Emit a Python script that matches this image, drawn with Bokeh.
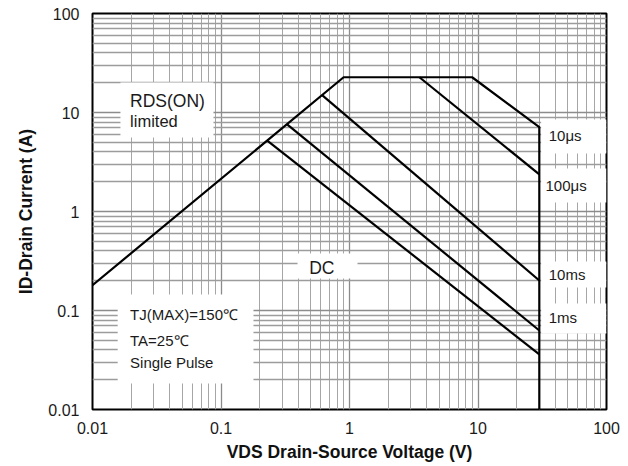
from bokeh.plotting import figure
from bokeh.models import FixedTicker, Label
from bokeh.embed import file_html
from bokeh.resources import INLINE

# ---- data ----
x_ticks = [0.01, 0.1, 1, 10, 100]
x_labels = ["0.01", "0.1", "1", "10", "100"]
y_ticks = [0.01, 0.1, 1, 10, 100]
y_labels = ["0.01", "0.1", "1", "10", "100"]

# SOA envelope: RDS(ON) limit, current limit, 10us line, VDS max
env_v = [0.01, 0.9, 9.0, 30, 30]
env_i = [0.18, 22.7, 22.7, 7.1, 0.01]
# 100us
l100us_v = [3.5, 30]
l100us_i = [22.7, 2.37]
# line labelled 10ms
l10ms_v = [0.612, 30]
l10ms_i = [15.0, 0.201]
# line labelled 1ms
l1ms_v = [0.327, 30]
l1ms_i = [7.6, 0.0628]
# line labelled DC
ldc_v = [0.229, 30]
ldc_i = [5.2, 0.036]

FONT = "Liberation Sans"

def minors(majors):
    out = []
    for m in majors[:-1]:
        for k in range(2, 10):
            out.append(m * k)
    return out

p = figure(width=624, height=464, x_axis_type="log", y_axis_type="log",
           x_range=(0.01, 100), y_range=(0.01, 100),
           output_backend="svg", toolbar_location=None,
           min_border_left=92, min_border_right=18, min_border_top=13,
           min_border_bottom=55)

p.background_fill_color = "white"
p.border_fill_color = "white"
p.outline_line_color = "black"
p.outline_line_width = 2

# grids
p.xgrid.ticker = FixedTicker(ticks=x_ticks, minor_ticks=minors(x_ticks))
p.ygrid.ticker = FixedTicker(ticks=y_ticks, minor_ticks=minors(y_ticks))
p.xgrid.grid_line_color = "#8c8c8c"
p.xgrid.grid_line_width = 1.3
p.xgrid.minor_grid_line_color = "#a6a6a6"
p.xgrid.minor_grid_line_width = 1
p.ygrid.grid_line_color = "#8c8c8c"
p.ygrid.grid_line_width = 1.5
p.ygrid.minor_grid_line_color = "#9c9c9c"
p.ygrid.minor_grid_line_width = 1.4

# axes
p.xaxis.ticker = FixedTicker(ticks=x_ticks)
p.yaxis.ticker = FixedTicker(ticks=y_ticks)
p.xaxis.major_label_overrides = {t: s for t, s in zip(x_ticks, x_labels)}
p.yaxis.major_label_overrides = {t: s for t, s in zip(y_ticks, y_labels)}
for ax in (p.xaxis, p.yaxis):
    ax.axis_line_color = None
    ax.major_tick_line_color = None
    ax.minor_tick_line_color = None
    ax.major_tick_out = 0
    ax.major_tick_in = 0
    ax.minor_tick_out = 0
    ax.minor_tick_in = 0
    ax.major_label_text_font = FONT
    ax.major_label_text_font_size = "16px"
    ax.major_label_text_color = "#1a1a1a"
    ax.axis_label_text_font = FONT
    ax.axis_label_text_font_style = "bold"
    ax.axis_label_text_font_size = "17.5px"
    ax.axis_label_text_color = "#111111"
p.xaxis.major_label_standoff = 12
p.yaxis.major_label_standoff = 13
p.xaxis.axis_label = "VDS Drain-Source Voltage (V)"
p.yaxis.axis_label = "ID-Drain Current (A)"
p.xaxis.axis_label_standoff = 5
p.yaxis.axis_label_standoff = 9

# white label boxes (annotation placement)
box_left = [0.0165, 31, 31, 31, 31, 0.394, 0.0157]
box_right = [0.0874, 100, 100, 100, 100, 1.154, 0.179]
box_top = [20.1, 8.5, 2.72, 0.313, 0.118, 0.377, 0.145]
box_bottom = [5.59, 3.85, 1.233, 0.171, 0.0586, 0.21, 0.0183]
p.quad(left=box_left, right=box_right, top=box_top, bottom=box_bottom,
       fill_color="white", line_color=None)

# curves
for vx, iy in [(env_v, env_i), (l100us_v, l100us_i), (l10ms_v, l10ms_i),
               (l1ms_v, l1ms_i), (ldc_v, ldc_i)]:
    p.line(vx, iy, line_color="black", line_width=2.2)

# text labels
def lab(x, y, t, size="15px"):
    p.add_layout(Label(x=x, y=y, text=t, text_font=FONT, text_font_size=size,
                       text_color="#1a1a1a", text_baseline="middle",
                       text_align="left"))

lab(0.0196, 13.0, "RDS(ON)", "17.5px")
lab(0.0196, 8.2, "limited", "16.5px")
lab(0.0196, 0.0905, "TJ(MAX)=150\u2103")
lab(0.0196, 0.0495, "TA=25\u2103")
lab(0.0196, 0.0295, "Single Pulse")
lab(0.486, 0.27, "DC", "17.5px")
lab(35.5, 5.8, "10\u03bcs")
lab(33.5, 1.85, "100\u03bcs")
lab(35.5, 0.23, "10ms")
lab(35.5, 0.084, "1ms")

open("out.html", "w").write(file_html(p, INLINE))
